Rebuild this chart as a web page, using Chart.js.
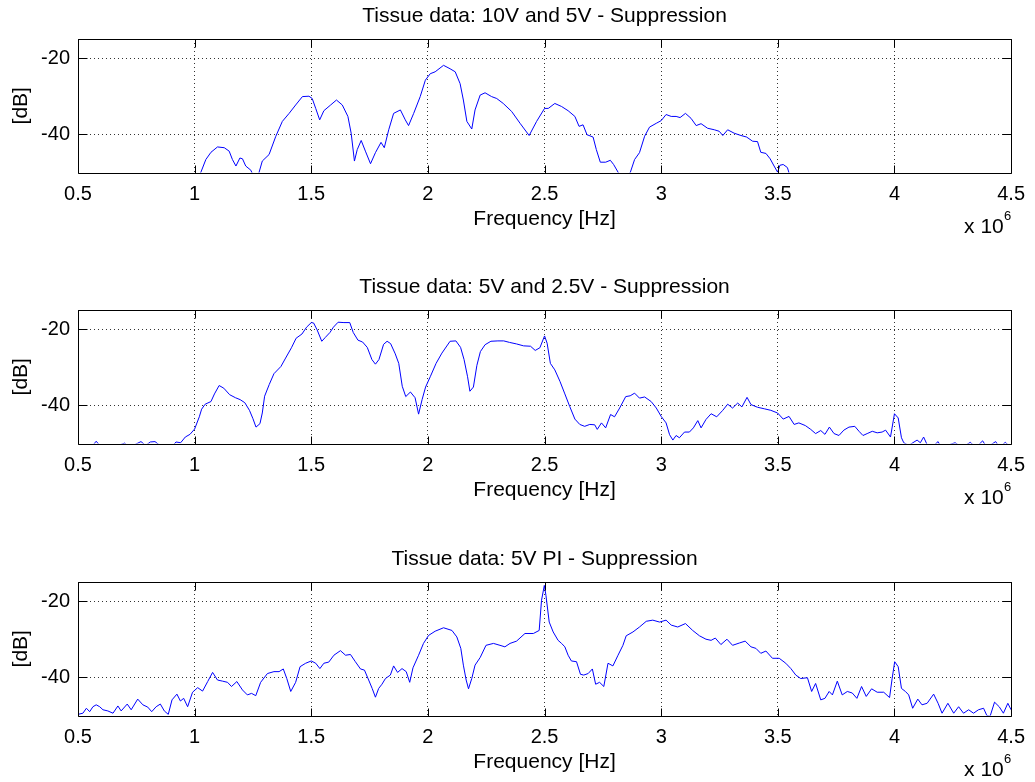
<!DOCTYPE html>
<html>
<head>
<meta charset="utf-8">
<script src="https://cdn.jsdelivr.net/npm/chart.js@4"></script>
<style>
  body { margin: 0; background: #fff; }
  #page { position: relative; width: 1035px; height: 782px; }
  canvas { position: absolute; left: 0; }
</style>
</head>
<body>
<div id="page">
  <canvas id="plot1" width="1035" height="239" style="top:0px"></canvas>
  <canvas id="plot2" width="1035" height="239" style="top:271px"></canvas>
  <canvas id="plot3" width="1035" height="239" style="top:543px"></canvas>
</div>
<script>

const titles = [
    "Tissue data: 10V and 5V - Suppression",
    "Tissue data: 5V and 2.5V - Suppression",
    "Tissue data: 5V PI - Suppression"
];

const xTicks = [0.5, 1, 1.5, 2, 2.5, 3, 3.5, 4, 4.5];
const yTicks = [-40, -20];

// frequency in units of 1e6 Hz, level in dB
const freq1 = [1.0, 1.027, 1.048, 1.07, 1.098, 1.127, 1.148, 1.162, 1.177, 1.194, 1.205, 1.219, 1.241, 1.26, 1.276,
    1.29, 1.319, 1.348, 1.376, 1.405, 1.433, 1.462, 1.49, 1.504, 1.519, 1.536, 1.554, 1.583, 1.608, 1.633,
    1.657, 1.671, 1.685, 1.697, 1.714, 1.732, 1.754, 1.775, 1.799, 1.813, 1.832, 1.853, 1.882, 1.903, 1.917,
    1.939, 1.967, 1.989, 2.01, 2.031, 2.067, 2.095, 2.117, 2.138, 2.152, 2.167, 2.188, 2.202, 2.224, 2.245,
    2.273, 2.295, 2.323, 2.359, 2.395, 2.434, 2.466, 2.5, 2.516, 2.544, 2.573, 2.601, 2.63, 2.648, 2.665,
    2.682, 2.708, 2.722, 2.739, 2.762, 2.782, 2.796, 2.815, 2.84, 2.868, 2.886, 2.907, 2.929, 2.95, 2.979,
    3.0, 3.021, 3.043, 3.064, 3.081, 3.104, 3.128, 3.15, 3.171, 3.199, 3.228, 3.249, 3.264, 3.285, 3.313,
    3.342, 3.366, 3.392, 3.413, 3.427, 3.449, 3.467, 3.484, 3.499, 3.509, 3.523, 3.541, 3.548, 3.58];
const level1 = [-53, -49.9, -46.6, -44.7, -43.3, -43.5, -44.4, -46.6, -48.3, -46.2, -46.4, -48.3, -49.4, -52, -50,
    -47, -45.3, -40.5, -36.6, -34.5, -32.3, -30.1, -30, -30.6, -33.2, -36.2, -33.8, -32.3, -31, -32.3,
    -35.3, -39.7, -47, -44, -41.6, -44.4, -47.7, -44.8, -42.1, -43.5, -38.8, -34.5, -33.6, -36.2, -37.7,
    -34.5, -30.1, -25.8, -24.1, -23.6, -21.9, -22.8, -23.6, -26.7, -31, -36.6, -38.6, -33.6, -29.7, -29.1,
    -30.1, -30.6, -31.9, -34, -37.1, -40.3, -36.6, -33.2, -33.2, -31.9, -32.7, -33.8, -35.3, -37.9, -37.5,
    -40.1, -40.7, -44, -47.3, -47.3, -46.8, -47.9, -49.9, -52.5, -49.9, -46.6, -44.8, -40.5, -38.1, -37.1,
    -36.4, -34.8, -35.3, -35.3, -35.6, -34.5, -35.8, -37.7, -37.2, -38.4, -38.8, -39.2, -40.3, -38.8, -39.7,
    -40.3, -40.7, -41.8, -41.9, -44.7, -45, -46.4, -48.3, -49.9, -48.1, -47.9, -48.7, -50.1, -53];

const freq2 = [0.5, 0.55, 0.578, 0.6, 0.65, 0.7, 0.72, 0.77, 0.79, 0.81, 0.83, 0.845, 0.87, 0.9, 0.92,
    0.94, 0.96, 0.98, 1.0, 1.02, 1.03, 1.045, 1.07, 1.085, 1.105, 1.125, 1.15, 1.175, 1.195, 1.215,
    1.235, 1.25, 1.263, 1.28, 1.29, 1.3, 1.32, 1.34, 1.37, 1.39, 1.415, 1.435, 1.46, 1.48, 1.5,
    1.51, 1.525, 1.545, 1.56, 1.58, 1.595, 1.615, 1.64, 1.665, 1.68, 1.7, 1.72, 1.74, 1.76, 1.775,
    1.79, 1.81, 1.825, 1.84, 1.86, 1.875, 1.89, 1.905, 1.925, 1.945, 1.96, 1.975, 1.99, 2.01, 2.035,
    2.06, 2.095, 2.12, 2.14, 2.155, 2.17, 2.18, 2.195, 2.21, 2.225, 2.245, 2.27, 2.3, 2.325, 2.35,
    2.38, 2.41, 2.44, 2.46, 2.48, 2.5, 2.511, 2.525, 2.544, 2.566, 2.587, 2.608, 2.63, 2.651, 2.672,
    2.694, 2.715, 2.726, 2.744, 2.762, 2.783, 2.8, 2.822, 2.848, 2.867, 2.886, 2.907, 2.929, 2.957, 2.979,
    3.0, 3.021, 3.036, 3.05, 3.064, 3.078, 3.1, 3.121, 3.138, 3.157, 3.171, 3.192, 3.214, 3.238, 3.264,
    3.285, 3.306, 3.328, 3.346, 3.368, 3.385, 3.413, 3.442, 3.47, 3.499, 3.523, 3.548, 3.57, 3.59, 3.618,
    3.641, 3.662, 3.684, 3.702, 3.721, 3.741, 3.762, 3.783, 3.805, 3.83, 3.848, 3.865, 3.883, 3.905, 3.926,
    3.947, 3.962, 3.983, 4.0, 4.016, 4.03, 4.04, 4.061, 4.097, 4.111, 4.125, 4.14, 4.16, 4.187, 4.2,
    4.26, 4.29, 4.325, 4.35, 4.378, 4.396, 4.434, 4.45, 4.475, 4.5];
const level2 = [-51, -51.5, -49.4, -51, -51, -49.9, -51, -49.5, -50.5, -49.6, -49.5, -50.2, -51, -51, -49.6,
    -49.8, -48.3, -47.6, -46.2, -43, -41, -39.7, -39, -37, -34.8, -35.5, -37.2, -38, -38.5, -39.3,
    -41.3, -43.5, -45.7, -44.8, -42, -37.6, -34.5, -31.7, -29.8, -27.6, -24.9, -22.4, -21.3, -19.5, -18.3,
    -18.4, -20.2, -23.2, -22.2, -20.9, -19.5, -18.2, -18.3, -18.3, -20.9, -22.9, -23.4, -24.8, -28, -29.2,
    -28, -24, -23.2, -23.8, -26.5, -29, -35, -37.7, -36.5, -38, -42.3, -38.5, -35.2, -32.5, -29,
    -26.3, -23.2, -23.1, -24.8, -28, -32.5, -36.3, -35.2, -29.5, -25.9, -24.1, -23.2, -23.1, -23.1, -23.5,
    -23.9, -24.4, -24.5, -25.6, -24.9, -21.8, -23.7, -29, -30.7, -33.7, -37, -40.3, -43.6, -45, -45.5,
    -45, -45.1, -46.3, -44.6, -45.9, -42.4, -43, -40.7, -37.7, -37.5, -36.8, -38.1, -37.8, -39, -40.7,
    -42.9, -44.6, -47.7, -49.1, -47.9, -48.5, -47, -47, -45.9, -44, -45.9, -43.7, -42.2, -43, -41.3,
    -39.7, -40.7, -39.4, -40.4, -37.9, -39.8, -40.5, -40.9, -41.3, -42, -43.6, -42.9, -45, -44.6, -45.3,
    -46.3, -47.4, -46.6, -47.6, -45.7, -47.4, -47.9, -46.5, -45.7, -45.5, -46.8, -47.9, -47.4, -46.8, -47.2,
    -47, -46.5, -48.3, -42.2, -43.3, -48.5, -49.8, -50.5, -49.1, -49.8, -48.3, -50.3, -51, -49.5, -51,
    -49.8, -51, -49.7, -51, -49.3, -51, -49.5, -51, -49.7, -51];

const freq3 = [0.5, 0.521, 0.536, 0.55, 0.564, 0.578, 0.593, 0.607, 0.628, 0.65, 0.671, 0.685, 0.711, 0.728, 0.756,
    0.778, 0.799, 0.816, 0.835, 0.853, 0.87, 0.887, 0.903, 0.924, 0.939, 0.953, 0.97, 0.991, 1.013, 1.034,
    1.056, 1.077, 1.098, 1.12, 1.141, 1.158, 1.181, 1.205, 1.226, 1.244, 1.262, 1.283, 1.312, 1.34, 1.362,
    1.38, 1.395, 1.412, 1.433, 1.452, 1.476, 1.5, 1.519, 1.537, 1.554, 1.575, 1.597, 1.625, 1.647, 1.668,
    1.689, 1.711, 1.728, 1.746, 1.761, 1.775, 1.789, 1.803, 1.818, 1.839, 1.853, 1.87, 1.889, 1.907, 1.922,
    1.936, 1.96, 1.981, 2.003, 2.031, 2.067, 2.103, 2.124, 2.141, 2.152, 2.164, 2.174, 2.188, 2.202, 2.224,
    2.249, 2.281, 2.309, 2.33, 2.352, 2.38, 2.416, 2.452, 2.477, 2.487, 2.499, 2.506, 2.52, 2.537, 2.558,
    2.573, 2.587, 2.601, 2.615, 2.637, 2.654, 2.668, 2.687, 2.705, 2.719, 2.736, 2.754, 2.772, 2.793, 2.815,
    2.836, 2.85, 2.879, 2.907, 2.936, 2.964, 2.993, 3.021, 3.043, 3.071, 3.104, 3.135, 3.164, 3.192, 3.214,
    3.232, 3.256, 3.282, 3.306, 3.335, 3.36, 3.385, 3.406, 3.427, 3.449, 3.477, 3.506, 3.534, 3.556, 3.577,
    3.598, 3.627, 3.645, 3.662, 3.684, 3.702, 3.72, 3.734, 3.755, 3.776, 3.798, 3.819, 3.839, 3.859, 3.879,
    3.902, 3.926, 3.954, 3.979, 3.99, 4.001, 4.016, 4.03, 4.047, 4.061, 4.078, 4.1, 4.118, 4.14, 4.168,
    4.187, 4.204, 4.229, 4.254, 4.275, 4.296, 4.318, 4.339, 4.36, 4.382, 4.396, 4.41, 4.429, 4.449, 4.467,
    4.486, 4.5];
const level3 = [-49.7, -49.4, -48.1, -49, -47.7, -47.2, -47.7, -48.5, -48.8, -49.4, -47.5, -48.8, -47, -48.5, -45.7,
    -47.2, -47.8, -49, -47.7, -47, -48.8, -49.7, -45.9, -44.4, -46.2, -45.5, -47.7, -43.9, -42.7, -43.6,
    -41.1, -38.7, -40.7, -41, -41.3, -42.4, -41.1, -43.3, -44.6, -44.2, -44.8, -41.3, -39, -38.5, -38.5,
    -37.8, -40.3, -43.7, -41.3, -37.2, -36.3, -35.7, -36.3, -37.7, -36.3, -36, -34.2, -33, -34.2, -34,
    -35.9, -37.8, -38.1, -40.7, -42.9, -45.2, -42.9, -41.8, -40.3, -39.4, -37, -38.7, -37.7, -38.5, -41.3,
    -37.5, -34.2, -31.1, -29, -27.9, -27, -27.7, -29.4, -32.4, -36.8, -40.7, -43, -40.3, -36.8, -34.8,
    -31.6, -31.1, -31.6, -32, -31.1, -30.5, -28.5, -28.5, -27.7, -19.8, -15.9, -18.5, -25.5, -28.1, -30.3,
    -31.1, -32, -34.2, -35.7, -35.9, -39.2, -39.4, -39, -37.8, -41.8, -41.3, -42.4, -36.3, -37, -34.2,
    -31.6, -29.1, -28.1, -26.8, -25.3, -25, -25.5, -25, -26.3, -26.8, -25.9, -27.7, -29.1, -30, -30.3,
    -29.7, -31.4, -30, -31.6, -31, -30.5, -32, -32.4, -33.7, -33.1, -35, -35, -36.3, -37.7, -39.4,
    -40.3, -40.1, -43.7, -41.6, -45.9, -45.5, -43.7, -44.6, -41, -44.6, -43.7, -44.1, -45.5, -42.4, -45,
    -43, -43.9, -43.9, -45.3, -40.3, -35.9, -37.2, -42.9, -43.7, -44.6, -48.1, -45.7, -47.2, -46.8, -44.4,
    -46.8, -49.4, -46.8, -49.4, -47.7, -49.4, -48.5, -49.4, -48.5, -48.1, -50, -50.2, -46.5, -47.7, -49.4,
    -46.8, -48.5];

const fontFamily = "'Liberation Sans', Arial, Helvetica, sans-serif";

function makePoints(freq, level){
    const points = [];
    for(let i = 0; i < freq.length; i++){
        points.push({ x: freq[i], y: level[i] });
    }
    return points;
}

// box round the axes, inward tick marks and the "x 10^6" exponent, MATLAB style
const matlabFrame = {
    id: "matlabFrame",
    afterDraw(chart){
        const ctx = chart.ctx;
        const area = chart.chartArea;
        const xs = chart.scales.x;
        const ys = chart.scales.y;
        const l = Math.round(area.left) + 0.5;
        const r = Math.round(area.right) + 0.5;
        const t = Math.round(area.top) + 0.5;
        const b = Math.round(area.bottom) + 0.5;

        ctx.save();
        ctx.strokeStyle = "#000";
        ctx.lineWidth = 1;
        ctx.beginPath();
        ctx.rect(l, t, r - l, b - t);
        xTicks.forEach(v => {
            const px = Math.round(xs.getPixelForValue(v)) + 0.5;
            ctx.moveTo(px, b); ctx.lineTo(px, b - 8);
            ctx.moveTo(px, t); ctx.lineTo(px, t + 8);
        });
        yTicks.forEach(v => {
            const py = Math.round(ys.getPixelForValue(v)) + 0.5;
            ctx.moveTo(l, py); ctx.lineTo(l + 9, py);
            ctx.moveTo(r, py); ctx.lineTo(r - 9, py);
        });
        ctx.stroke();

        ctx.fillStyle = "#000";
        ctx.textAlign = "left";
        ctx.textBaseline = "alphabetic";
        ctx.font = "21px " + fontFamily;
        ctx.fillText("x 10", area.right - 47, area.bottom + 60.5);
        ctx.font = "13px " + fontFamily;
        ctx.fillText("6", area.right - 7, area.bottom + 47.5);
        ctx.restore();
    }
};

function makeChart(id, title, freq, level){

    const ctx = document.getElementById(id);

    new Chart(ctx, {
        type: "line",
        data: {
            datasets: [{
                data: makePoints(freq, level),
                borderColor: "#0000ff",
                borderWidth: 1,
                pointRadius: 0,
                fill: false,
                tension: 0,
                clip: 0
            }]
        },
        options: {
            responsive: false,
            animation: false,
            devicePixelRatio: 1,
            layout: {
                padding: { left: 0, right: 20, top: 0, bottom: 0 }
            },
            plugins: {
                legend: { display: false },
                tooltip: { enabled: false },
                title: {
                    display: true,
                    text: title,
                    fullSize: false,
                    color: "#000",
                    font: { family: fontFamily, size: 21, weight: "normal" },
                    padding: { top: 4, bottom: 9.8 }
                }
            },
            scales: {
                x: {
                    type: "linear",
                    position: "bottom",
                    min: 0.5,
                    max: 4.5,
                    afterBuildTicks: (scale) => {
                        scale.ticks = xTicks.map(v => ({ value: v }));
                    },
                    afterFit: (scale) => {
                        scale.height = 66.5;
                    },
                    ticks: {
                        color: "#000",
                        padding: 10,
                        maxRotation: 0,
                        autoSkip: false,
                        font: { family: fontFamily, size: 20 },
                        callback: (v) => String(v)
                    },
                    grid: {
                        color: "#333",
                        lineWidth: 1,
                        drawTicks: false
                    },
                    border: { display: false, dash: [1, 3] },
                    title: {
                        display: true,
                        text: "Frequency [Hz]",
                        color: "#000",
                        font: { family: fontFamily, size: 21 },
                        padding: { top: 0, bottom: 7.4 }
                    }
                },
                y: {
                    type: "linear",
                    min: -50,
                    max: -15,
                    afterBuildTicks: (scale) => {
                        scale.ticks = yTicks.map(v => ({ value: v }));
                    },
                    afterFit: (scale) => {
                        scale.width = 78;
                    },
                    ticks: {
                        color: "#000",
                        padding: 8,
                        font: { family: fontFamily, size: 20 },
                        callback: (v) => String(v)
                    },
                    grid: {
                        color: "#333",
                        lineWidth: 1,
                        drawTicks: false
                    },
                    border: { display: false, dash: [1, 3] },
                    title: {
                        display: true,
                        text: "[dB]",
                        color: "#000",
                        font: { family: fontFamily, size: 21 },
                        padding: { top: 9, bottom: 0 }
                    }
                }
            }
        },
        plugins: [matlabFrame]
    });
}

makeChart("plot1", titles[0], freq1, level1);
makeChart("plot2", titles[1], freq2, level2);
makeChart("plot3", titles[2], freq3, level3);

</script>
</body>
</html>
